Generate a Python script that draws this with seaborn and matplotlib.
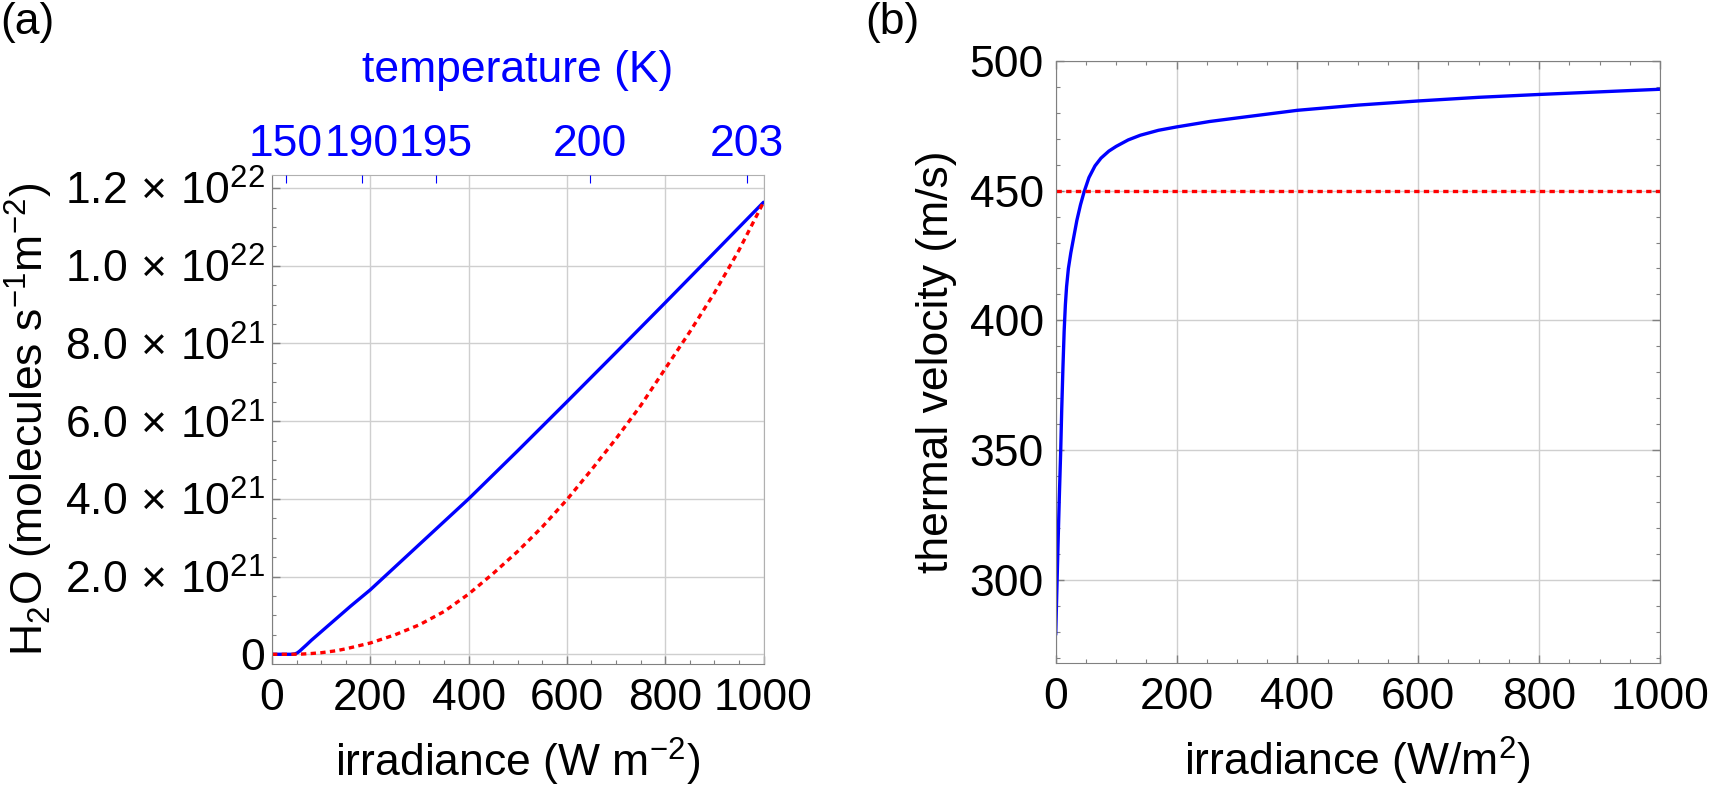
import seaborn as sns
import matplotlib.pyplot as plt
import pandas as pd
from matplotlib.ticker import MultipleLocator

sns.set_style("white")
plt.rcParams['font.family'] = ['Liberation Sans', 'DejaVu Sans']
plt.rcParams['mathtext.fontset'] = 'custom'
plt.rcParams['mathtext.rm'] = 'Liberation Sans'
plt.rcParams['mathtext.it'] = 'Liberation Sans:italic'
plt.rcParams['mathtext.bf'] = 'Liberation Sans:bold'
plt.rcParams['font.size'] = 32
for k in ['text.color', 'axes.labelcolor', 'xtick.labelcolor', 'ytick.labelcolor']:
    plt.rcParams[k] = 'black'

# ---- panel (a): H2O flux vs irradiance ----
irr_flux = [0, 20, 40, 47, 52, 57, 63, 70, 80, 100, 130, 160, 200, 300, 400, 500, 600, 700, 800, 900, 1000]
flux_blue = [0, 0, 0, 0.01e21, 0.04e21, 0.09e21, 0.16e21, 0.24e21, 0.36e21, 0.58e21, 0.91e21, 1.24e21,
             1.66e21, 2.83e21, 4.0e21, 5.24e21, 6.5e21, 7.77e21, 9.05e21, 10.34e21, 11.635e21]

irr_red = [0, 40, 60, 80, 100, 130, 150, 200, 250, 300, 350, 400, 450, 500, 550, 600, 650, 700,
           750, 800, 850, 900, 950, 1000]
flux_red = [0, 0, 0.005e21, 0.02e21, 0.04e21, 0.09e21, 0.14e21, 0.29e21, 0.5e21, 0.76e21, 1.1e21,
            1.55e21, 2.08e21, 2.65e21, 3.28e21, 3.98e21, 4.75e21, 5.55e21, 6.4e21, 7.35e21, 8.3e21,
            9.3e21, 10.4e21, 11.635e21]

flux_ticks = [0, 2e21, 4e21, 6e21, 8e21, 1.0e22, 1.2e22]
flux_labels = ['0', r'$\mathregular{2.0\,\times\,10^{21}}$', r'$\mathregular{4.0\,\times\,10^{21}}$',
               r'$\mathregular{6.0\,\times\,10^{21}}$', r'$\mathregular{8.0\,\times\,10^{21}}$',
               r'$\mathregular{1.0\,\times\,10^{22}}$', r'$\mathregular{1.2\,\times\,10^{22}}$']

# temperature axis: irradiance where each temperature is reached
temp_tick_irr = [28, 182.5, 334, 646, 967]
temp_labels = ['150', '190', '195', '200', '203']

# ---- panel (b): thermal velocity vs irradiance ----
irr_vel = [0, 2, 4, 6, 8.3, 10, 12, 14, 16, 18, 21, 25, 29, 35, 41, 47, 55, 65, 75, 88, 100, 120,
           140, 170, 200, 255, 305, 400, 500, 600, 700, 800, 900, 1000]
velocity = [279, 297, 315, 332, 350, 366, 382, 396, 406, 413, 420, 426, 431, 438.5, 444.5, 449.5,
            455, 459.5, 462.5, 465.2, 467, 469.5, 471.3, 473.2, 474.5, 476.6, 478.1, 480.9, 482.9,
            484.5, 485.9, 487.0, 488.0, 489.0]
vel_limit = 450

df_blue = pd.DataFrame({'irr': irr_flux, 'flux': flux_blue})
df_red = pd.DataFrame({'irr': irr_red, 'flux': flux_red})
df_vel = pd.DataFrame({'irr': irr_vel, 'v': velocity})
df_lim = pd.DataFrame({'irr': [0, 1000], 'v': [vel_limit, vel_limit]})

frame = '#808080'
grid = '#cfcfcf'
dots = (0, (1.6, 1.3))

fig = plt.figure(figsize=(17.09, 7.86), dpi=100)
ax = fig.add_axes([0.15916, 0.15522, 0.2876, 0.62252])
axb = fig.add_axes([0.61773, 0.15611, 0.3536, 0.76667])

# (a)
sns.lineplot(data=df_blue, x='irr', y='flux', ax=ax, color='#0000ff', lw=2.4)
sns.lineplot(data=df_red, x='irr', y='flux', ax=ax, color='#ff0000', lw=2.4, linestyle=dots)
ax.set_xlim(0, 1000)
ax.set_ylim(-2.5e20, 1.2345e22)
ax.set_xticks([0, 200, 400, 600, 800, 1000])
ax.set_yticks(flux_ticks, flux_labels)
ax.xaxis.set_minor_locator(MultipleLocator(50))
ax.yaxis.set_minor_locator(MultipleLocator(5e20))
ax.grid(True, which='major', color=grid, lw=1)
ax.tick_params(which='both', direction='in', color=frame, top=False, right=False, bottom=True, left=True)
ax.tick_params(which='major', length=5.5, width=1)
ax.tick_params(which='minor', length=3, width=0.8)
ax.tick_params(axis='x', pad=10)
ax.tick_params(axis='y', pad=5)
ax.set_xlabel(r'irradiance (W m$^{-2}$)', labelpad=12)
ax.set_ylabel(r'H$_2$O (molecules s$^{-1}$m$^{-2}$)', labelpad=7)
for s in ['left', 'bottom']:
    ax.spines[s].set_color(frame)
for s in ['top', 'right']:
    ax.spines[s].set_color('#b0b0b0')

ax_top = ax.twiny()
ax_top.set_xlim(0, 1000)
ax_top.set_xticks(temp_tick_irr, temp_labels)
ax_top.tick_params(axis='x', direction='in', colors='#0000ff', length=5.5, width=0.8, pad=7)
ax_top.set_xlabel('temperature (K)', color='#0000ff', labelpad=30)
for s in ax_top.spines.values():
    s.set_visible(False)

# (b)
sns.lineplot(data=df_vel, x='irr', y='v', ax=axb, color='#0000ff', lw=2.4)
sns.lineplot(data=df_lim, x='irr', y='v', ax=axb, color='#ff0000', lw=2.4, linestyle=dots)
axb.set_xlim(0, 1000)
axb.set_ylim(268, 500)
axb.set_xticks([0, 200, 400, 600, 800, 1000])
axb.set_yticks([300, 350, 400, 450, 500])
axb.xaxis.set_minor_locator(MultipleLocator(50))
axb.yaxis.set_minor_locator(MultipleLocator(10))
axb.grid(True, which='major', color=grid, lw=1)
axb.tick_params(which='both', direction='in', color=frame, top=True, right=True, bottom=True, left=True)
axb.tick_params(which='major', length=5.5, width=1)
axb.tick_params(which='minor', length=3, width=0.8)
axb.tick_params(axis='x', pad=10)
axb.tick_params(axis='y', pad=8.5)
axb.set_xlabel(r'irradiance (W/m$^2$)', labelpad=12)
axb.set_ylabel('thermal velocity (m/s)', labelpad=9)
for s in axb.spines.values():
    s.set_color(frame)

fig.text(0.0, 0.997, '(a)', va='top', ha='left')
fig.text(0.506, 0.997, '(b)', va='top', ha='left')

fig.savefig('out.png', dpi=100)
